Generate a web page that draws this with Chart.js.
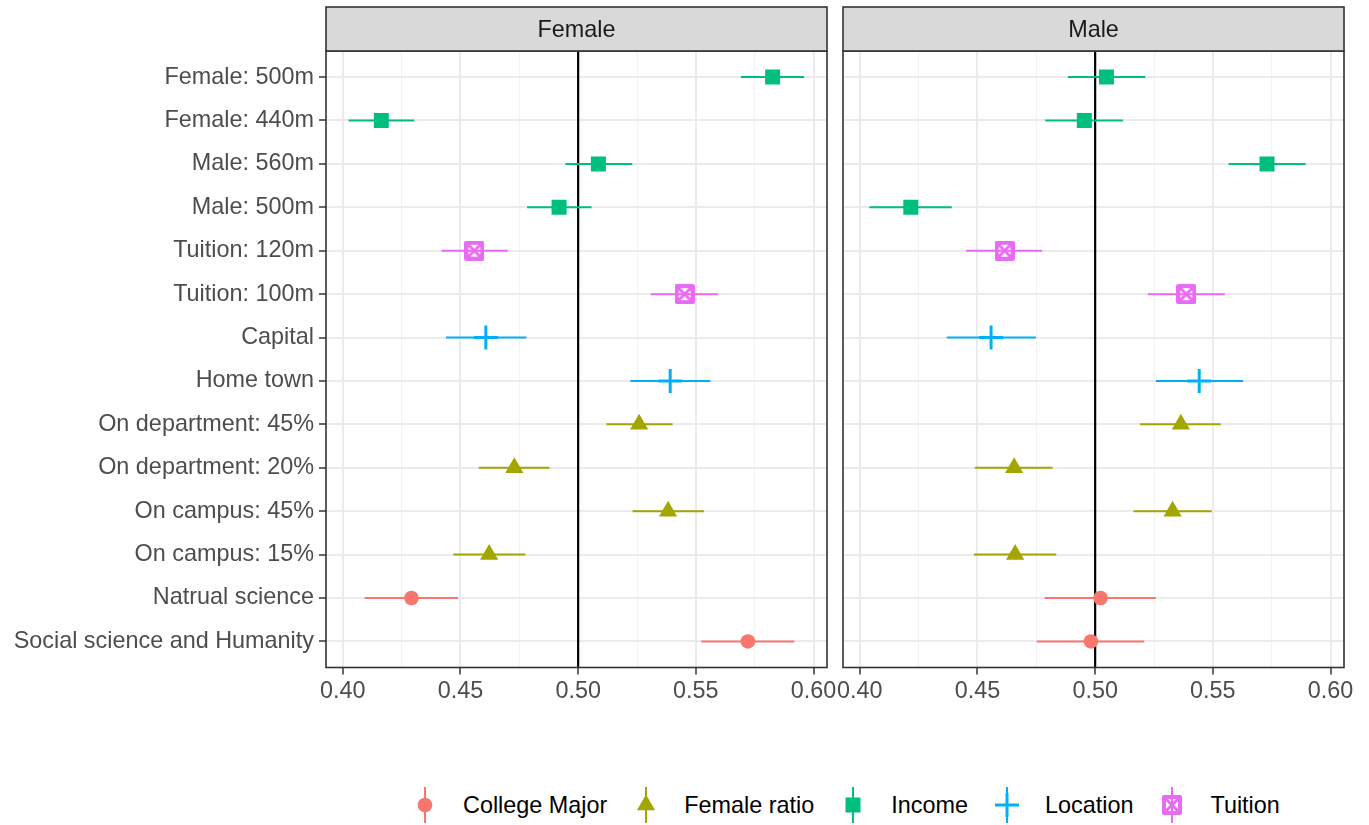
<!DOCTYPE html>
<html>
<head>
<meta charset="utf-8">
<script src="https://cdn.jsdelivr.net/npm/chart.js@4.4.1/dist/chart.umd.min.js"></script>
<style>
    body { margin: 0; background: #fff; }
    #wrap { position: relative; width: 1369px; height: 825px; overflow: hidden; }
    canvas.panel { position: absolute; top: 0; }
    #legend { position: absolute; left: 413px; top: 785px; height: 40px; display: flex; align-items: center;
              font-family: "Liberation Sans", Arial, sans-serif; font-size: 23.4px; color: #000; }
    #legend .item { display: flex; align-items: center; margin-right: 27px; }
    #legend canvas { margin-right: 26px; }
</style>
</head>
<body>
<div id="wrap">
    <canvas id="femaleChart" class="panel" width="860" height="720" style="left:0"></canvas>
    <canvas id="maleChart" class="panel" width="541" height="720" style="left:828px"></canvas>
    <div id="legend"></div>
</div>
<script>
const rowLabels = ['Female: 500m', 'Female: 440m', 'Male: 560m', 'Male: 500m', 'Tuition: 120m', 'Tuition: 100m',
    'Capital', 'Home town', 'On department: 45%', 'On department: 20%', 'On campus: 45%', 'On campus: 15%',
    'Natrual science', 'Social science and Humanity'];
const rowGroup = ['Income', 'Income', 'Income', 'Income', 'Tuition', 'Tuition', 'Location', 'Location',
    'Female ratio', 'Female ratio', 'Female ratio', 'Female ratio', 'College Major', 'College Major'];
const groups = ['College Major', 'Female ratio', 'Income', 'Location', 'Tuition'];
const panels = ['Female', 'Male'];

const femaleEst = [0.5826, 0.4164, 0.5086, 0.4919, 0.4559, 0.5452, 0.4608, 0.5391, 0.5259, 0.4729, 0.5382, 0.4622, 0.4292, 0.5721];
const femaleLo  = [0.5691, 0.4025, 0.4946, 0.4783, 0.4419, 0.5308, 0.4439, 0.5222, 0.5120, 0.4578, 0.5231, 0.4470, 0.4093, 0.5523];
const femaleHi  = [0.5960, 0.4304, 0.5230, 0.5057, 0.4701, 0.5594, 0.4780, 0.5562, 0.5401, 0.4878, 0.5534, 0.4776, 0.4490, 0.5918];

const maleEst = [0.5048, 0.4954, 0.5730, 0.4217, 0.4615, 0.5387, 0.4558, 0.5442, 0.5364, 0.4656, 0.5329, 0.4660, 0.5023, 0.4982];
const maleLo  = [0.4884, 0.4788, 0.5567, 0.4041, 0.4451, 0.5224, 0.4370, 0.5258, 0.5190, 0.4489, 0.5163, 0.4485, 0.4785, 0.4752];
const maleHi  = [0.5213, 0.5118, 0.5894, 0.4391, 0.4775, 0.5551, 0.4748, 0.5629, 0.5533, 0.4819, 0.5495, 0.4835, 0.5258, 0.5209];

const xTicks = [0.40, 0.45, 0.50, 0.55, 0.60];
const xMinorTicks = [0.425, 0.475, 0.525, 0.575];
const refLine = 0.5;

const FONT = '"Liberation Sans", Arial, sans-serif';
Chart.defaults.font.family = FONT;
Chart.defaults.font.size = 23.4;

// square with an X inside (ggplot shape 7)
function makeTuitionMark(color) {
    const c = document.createElement('canvas');
    c.width = 20; c.height = 20;
    const g = c.getContext('2d');
    g.strokeStyle = color;
    g.lineJoin = 'round';
    g.lineWidth = 4;
    g.strokeRect(2, 2, 16, 16);
    g.lineWidth = 3;
    g.beginPath();
    g.moveTo(3, 3); g.lineTo(17, 17);
    g.moveTo(17, 3); g.lineTo(3, 17);
    g.stroke();
    return c;
}

const groupStyle = {
    'College Major': { color: '#F8766D', pointStyle: 'circle', radius: 7.3, borderWidth: 0 },
    'Female ratio': { color: '#A3A500', pointStyle: 'triangle', radius: 10.5, borderWidth: 0 },
    'Income': { color: '#00BF7D', pointStyle: 'rect', radius: 10.6, borderWidth: 0 },
    'Location': { color: '#00B0F6', pointStyle: 'cross', radius: 12, borderWidth: 3 },
    'Tuition': { color: '#E76BF3', pointStyle: makeTuitionMark('#E76BF3'), radius: 10, borderWidth: 0 }
};


function buildDatasets(est, lo, hi) {
    return groups.map(g => {
        const s = groupStyle[g];
        const data = [];
        rowLabels.forEach((lab, i) => {
            if (rowGroup[i] === g) data.push({ x: est[i], y: i, lo: lo[i], hi: hi[i] });
        });
        return {
            label: g,
            data: data,
            backgroundColor: s.color,
            borderColor: s.color,
            pointStyle: s.pointStyle,
            pointRadius: s.radius,
            pointBorderWidth: s.borderWidth,
            pointHoverRadius: s.radius
        };
    });
}


// vertical reference line + horizontal error bars, under the points
const errorBars = {
    id: 'errorBars',
    beforeDatasetsDraw(chart) {
        const { ctx, chartArea, scales: { x, y } } = chart;
        ctx.save();
        const rx = x.getPixelForValue(refLine);
        ctx.strokeStyle = '#000';
        ctx.lineWidth = 2.2;
        ctx.beginPath();
        ctx.moveTo(rx, chartArea.top);
        ctx.lineTo(rx, chartArea.bottom);
        ctx.stroke();

        ctx.lineWidth = 2;
        chart.data.datasets.forEach(ds => {
            ctx.strokeStyle = ds.borderColor;
            ctx.beginPath();
            ds.data.forEach(p => {
                const py = y.getPixelForValue(p.y);
                ctx.moveTo(x.getPixelForValue(p.lo), py);
                ctx.lineTo(x.getPixelForValue(p.hi), py);
            });
            ctx.stroke();
        });
        ctx.restore();
    }
};

// panel border and facet strip
const panelDeco = {
    id: 'panelDeco',
    afterDraw(chart, args, opts) {
        const { ctx, chartArea: a } = chart;
        ctx.save();
        ctx.lineWidth = 1.6;
        ctx.strokeStyle = '#333333';
        ctx.strokeRect(a.left, a.top, a.right - a.left, a.bottom - a.top);

        const stripTop = 7;
        ctx.fillStyle = '#D9D9D9';
        ctx.fillRect(a.left, stripTop, a.right - a.left, a.top - stripTop);
        ctx.strokeRect(a.left, stripTop, a.right - a.left, a.top - stripTop);

        ctx.fillStyle = '#1A1A1A';
        ctx.font = '23.4px ' + FONT;
        ctx.textAlign = 'center';
        ctx.textBaseline = 'middle';
        ctx.fillText(opts.label, (a.left + a.right) / 2, (stripTop + a.top) / 2 + 2);
        ctx.restore();
    }
};


function createPanel(canvasId, panelName, est, lo, hi, showLabels, yWidth, rightPad) {
    const ctx = document.getElementById(canvasId).getContext('2d');
    return new Chart(ctx, {
        type: 'scatter',
        data: { datasets: buildDatasets(est, lo, hi) },
        options: {
            responsive: false,
            animation: false,
            layout: { padding: { top: 51, right: rightPad, bottom: 0, left: 0 } },
            plugins: {
                legend: { display: false },
                tooltip: { enabled: false },
                panelDeco: { label: panelName }
            },
            scales: {
                x: {
                    type: 'linear',
                    min: 0.3929,
                    max: 0.6057,
                    afterBuildTicks: scale => {
                        scale.ticks = xTicks.concat(xMinorTicks).sort((a, b) => a - b).map(v => ({ value: v }));
                    },
                    afterFit: scale => {
                        scale.height = 52.5;
                        scale.paddingLeft = 0;
                        scale.paddingRight = 0;
                    },
                    border: { display: false },
                    grid: {
                        color: ctx => xTicks.includes(ctx.tick.value) ? '#EBEBEB' : '#F2F2F2',
                        lineWidth: ctx => xTicks.includes(ctx.tick.value) ? 2 : 1,
                        tickColor: ctx => xTicks.includes(ctx.tick.value) ? '#333333' : 'rgba(0,0,0,0)',
                        tickLength: 7,
                        tickWidth: 1.5
                    },
                    ticks: {
                        autoSkip: false,
                        maxRotation: 0,
                        padding: 3,
                        color: '#4D4D4D',
                        callback: v => xTicks.includes(v) ? v.toFixed(2) : ''
                    }
                },
                y: {
                    type: 'linear',
                    reverse: true,
                    min: -0.6,
                    max: 13.6,
                    afterBuildTicks: scale => {
                        scale.ticks = rowLabels.map((lab, i) => ({ value: i }));
                    },
                    afterFit: scale => {
                        scale.width = yWidth;
                    },
                    border: { display: false },
                    grid: {
                        color: '#EBEBEB',
                        lineWidth: 2,
                        drawTicks: showLabels,
                        tickColor: '#333333',
                        tickLength: 7,
                        tickWidth: 1.5
                    },
                    ticks: {
                        display: showLabels,
                        padding: 5,
                        color: '#4D4D4D',
                        callback: v => rowLabels[v]
                    }
                }
            }
        },
        plugins: [errorBars, panelDeco]
    });
}


function buildLegend() {
    const legend = document.getElementById('legend');
    groups.forEach(g => {
        const s = groupStyle[g];
        const item = document.createElement('div');
        item.className = 'item';
        const c = document.createElement('canvas');
        c.width = 24; c.height = 40;
        const g2 = c.getContext('2d');
        g2.strokeStyle = s.color;
        g2.fillStyle = s.color;
        g2.lineWidth = 2;
        g2.beginPath();
        g2.moveTo(12, 2);
        g2.lineTo(12, 38);
        g2.stroke();
        g2.lineWidth = s.borderWidth;
        Chart.helpers.drawPoint(g2, {
            pointStyle: s.pointStyle,
            radius: s.radius,
            borderWidth: s.borderWidth,
            rotation: 0
        }, 12, 20);
        const t = document.createElement('span');
        t.textContent = g;
        item.appendChild(c);
        item.appendChild(t);
        legend.appendChild(item);
    });
}


createPanel('femaleChart', panels[0], femaleEst, femaleLo, femaleHi, true, 326, 33);
createPanel('maleChart', panels[1], maleEst, maleLo, maleHi, false, 8, 25);
buildLegend();
</script>
</body>
</html>
